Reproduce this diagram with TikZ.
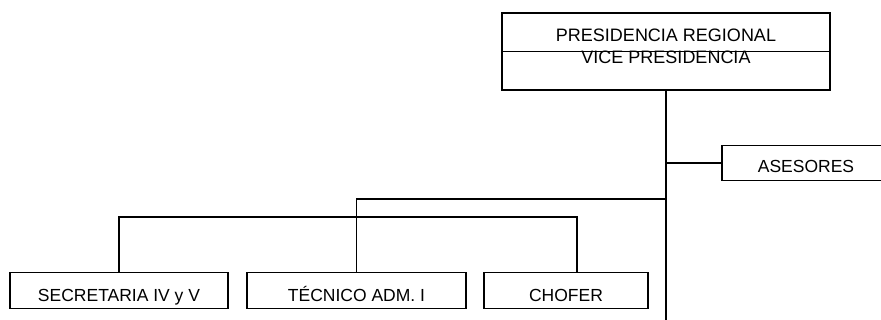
\documentclass[tikz,border=0pt]{standalone}
\usepackage{fontspec}
\setmainfont{Liberation Sans}
\usetikzlibrary{positioning}

\tikzset{
  orgbox/.style={draw, line width=1.4pt, inner sep=0pt, font=\fontsize{17.5}{21}\selectfont,
    text height=22pt, text depth=0pt, minimum height=35.5pt},
  link/.style={line width=1.4pt},
}

\begin{document}
\begin{tikzpicture}[x=1pt,y=-1pt]
  \useasboundingbox (0,0) rectangle (881,320);

  % head of the chart
  \node[draw, line width=1.4pt, inner sep=0pt, align=center,
        font=\fontsize{18}{22.3}\selectfont, text depth=11pt,
        minimum width=328pt, minimum height=77pt] (pres) at (666,51.5)
        {PRESIDENCIA REGIONAL\\VICE PRESIDENCIA};
  \draw[link] (pres.west) -- (pres.east);

  % staff
  \node[orgbox, minimum width=168pt, text height=19.5pt] (ases) at (806,163) {ASESORES};

  % lower level
  \node[orgbox, minimum width=218pt] (secr) at (119,290.5) {SECRETARIA IV y V};
  \node[orgbox, minimum width=219pt] (tecn) at (356.5,290.5) {TÉCNICO ADM. I};
  \node[orgbox, minimum width=164pt] (chof) at (566,290.5) {CHOFER};

  \coordinate (trunkend) at (666,322);
  \coordinate (busA) at (666,199);

  % connectors
  \draw[link] (pres.south) -- (trunkend);
  \draw[link] (ases.west) -- (ases.west -| pres.south);
  \draw[link] (tecn.north) |- (busA);
  \draw[link] (secr.north) -- ++(0,-55) -| ([xshift=11pt]chof.north);
\end{tikzpicture}
\end{document}
